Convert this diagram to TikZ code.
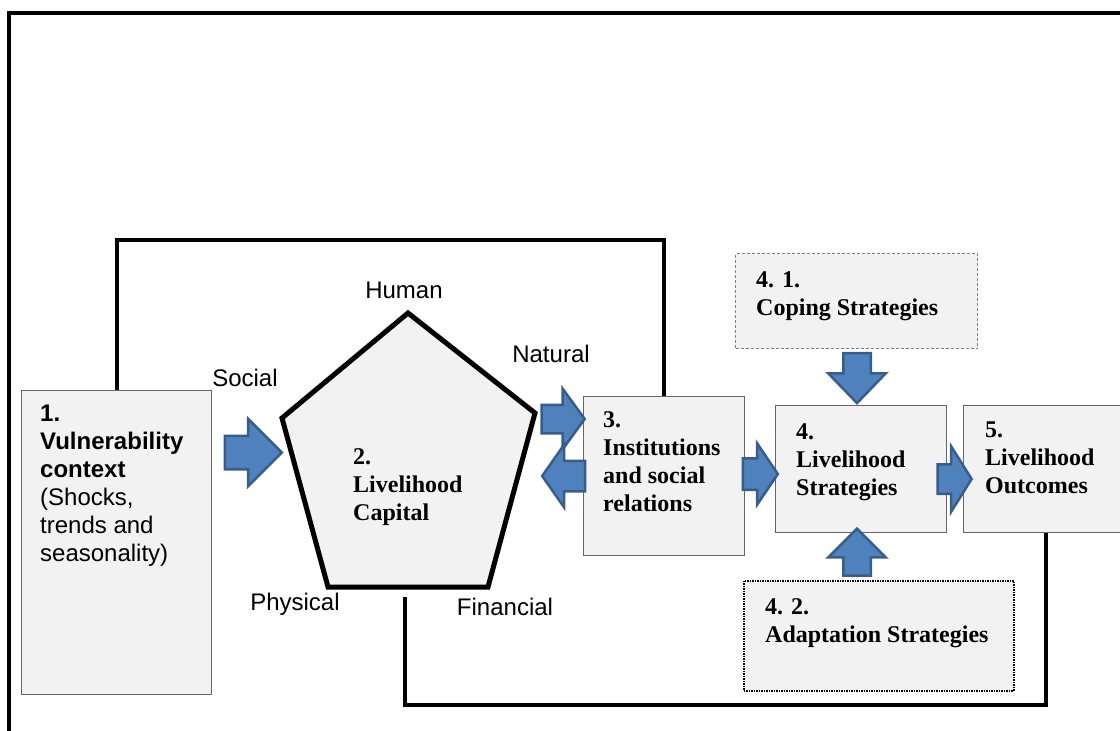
\documentclass[tikz,border=0pt]{standalone}
\usepackage{fontspec}
\setmainfont{Liberation Serif}
\setsansfont{Liberation Sans}
\usetikzlibrary{shapes.arrows, positioning, calc}
\definecolor{boxgray}{RGB}{242,242,242}
\definecolor{arrowfill}{RGB}{79,129,189}
\definecolor{arrowline}{RGB}{56,93,138}

\begin{document}
\begin{tikzpicture}[
    x=1pt, y=-1pt,
    box/.style={rectangle, draw=black!60, fill=boxgray, line width=1pt, inner sep=0pt, anchor=north west},
    boxtext/.style={anchor=north west, align=left, inner sep=0pt, font=\fontsize{24}{28}\selectfont\bfseries},
    capitallabel/.style={inner sep=0pt, font=\sffamily\fontsize{24}{28}\selectfont},
    pentagon/.style={draw, fill=boxgray, line width=5pt, line join=miter},
    loopline/.style={draw, line width=4pt},
    blockarrow/.style={single arrow, draw=arrowline, fill=arrowfill, line width=2.5pt, inner sep=0pt, outer sep=0pt, text depth=0pt}
]
    \useasboundingbox (0,0) rectangle (1120,731);

    % Outer frame
    \draw[line width=4pt] (9,745) -- (9,13) -- (1135,13);

    % Boxes
    \node[box, minimum width=190pt, minimum height=304pt] (vuln) at (21,390) {};
    \node[box, minimum width=161pt, minimum height=159pt] (inst) at (583,396) {};
    \node[box, minimum width=171pt, minimum height=127pt] (strat) at (775,405) {};
    \node[box, minimum width=164pt, minimum height=127pt] (outcome) at (963,405) {};
    \node[box, draw=black!50, densely dashed, minimum width=242pt, minimum height=95pt] (coping) at (735,253) {};
    \node[box, draw=black, line width=1.5pt, densely dotted, minimum width=270pt, minimum height=110pt] (adapt) at (743,580) {};

    % Livelihood capital pentagon
    \coordinate (cap-top) at (408,313);
    \coordinate (cap-right) at (535,413);
    \coordinate (cap-br) at (488,587);
    \coordinate (cap-bl) at (328,587);
    \coordinate (cap-left) at (282,418);
    \coordinate (cap-base) at (405,597);
    \draw[pentagon] (cap-top) -- (cap-right) -- (cap-br) -- (cap-bl) -- (cap-left) -- cycle;

    % Box texts
    \node[boxtext, font=\sffamily\fontsize{24}{28}\selectfont] (vuln-text) at ([shift={(19,15)}]vuln.north west)
        {\textbf{1.}\\\textbf{Vulnerability}\\\textbf{context}\\(Shocks,\\trends and\\seasonality)};
    \node[boxtext] (cap-text) at (353,448) {2.\\Livelihood\\Capital};
    \node[boxtext] (inst-text) at ([shift={(20,15)}]inst.north west) {3.\\Institutions\\and social\\relations};
    \node[boxtext] (strat-text) at ([shift={(21,18)}]strat.north west) {4.\\Livelihood\\Strategies};
    \node[boxtext] (outcome-text) at ([shift={(22,17)}]outcome.north west) {5.\\Livelihood\\Outcomes};
    \node[boxtext] (coping-text) at ([shift={(21,18)}]coping.north west) {4. 1.\\Coping Strategies};
    \node[boxtext] (adapt-text) at ([shift={(22,18)}]adapt.north west) {4. 2.\\Adaptation Strategies};

    % Capital labels
    \node[capitallabel] (human) at (404,290) {Human};
    \node[capitallabel] (natural) at (551,354) {Natural};
    \node[capitallabel] (social) at (245,378) {Social};
    \node[capitallabel] (physical) at (295,604) {Physical};
    \node[capitallabel] (financial) at (505,607) {Financial};

    % Feedback lines
    \draw[loopline] (vuln.north) -- ++(0,-150) -| (inst.north);
    \draw[loopline] (cap-base) -- ++(0,108) -| (outcome.south);

    % Block arrows
    \node[blockarrow, text height=31pt, minimum height=57pt, single arrow head extend=17pt, single arrow tip angle=90] (arr-vc) at (245,452.5) {};
    \node[blockarrow, text height=26pt, minimum height=43pt, single arrow head extend=16pt, single arrow tip angle=108] (arr-ci) at (558,419) {};
    \node[blockarrow, rotate=180, text height=28pt, minimum height=43pt, single arrow head extend=16pt, single arrow tip angle=110] (arr-ic) at (569,476) {};
    \node[blockarrow, text height=29pt, minimum height=35pt, single arrow head extend=15pt, single arrow tip angle=112] (arr-is) at (755,474) {};
    \node[blockarrow, text height=27pt, minimum height=34pt, single arrow head extend=18pt, single arrow tip angle=116] (arr-so) at (950,479) {};
    \node[blockarrow, rotate=-90, text height=25pt, minimum height=50pt, single arrow head extend=15pt, single arrow tip angle=88] (arr-cs) at (857,371) {};
    \node[blockarrow, rotate=90, text height=25pt, minimum height=47pt, single arrow head extend=15pt, single arrow tip angle=90] (arr-as) at (857,559) {};
\end{tikzpicture}
\end{document}
